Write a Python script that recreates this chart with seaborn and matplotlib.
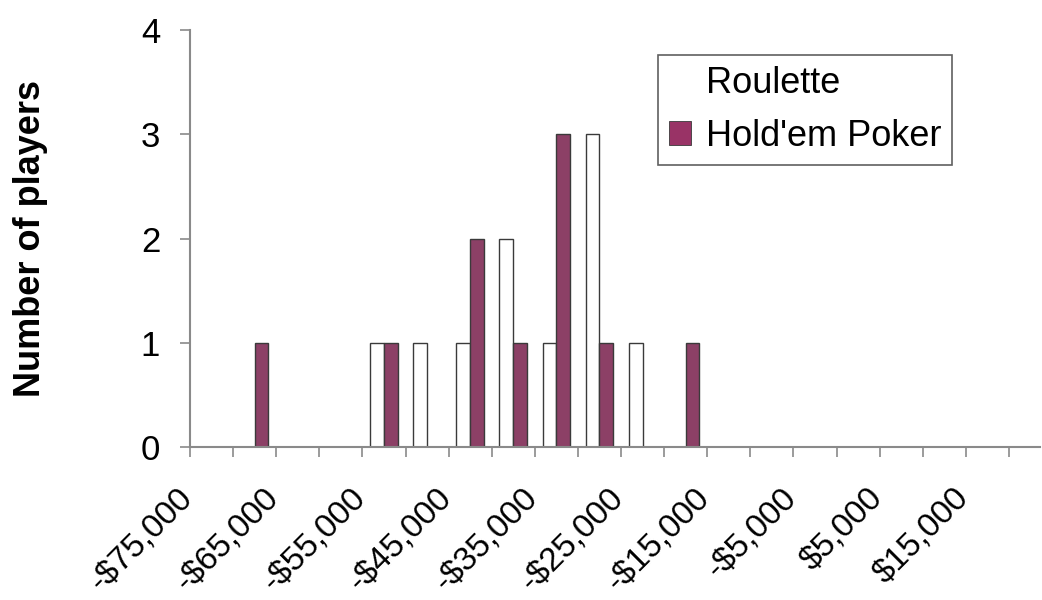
import numpy as np
import pandas as pd
import seaborn as sns
import matplotlib.pyplot as plt
from matplotlib.patches import Patch

# bins of $5,000 (lower edge), counts
bins = [-75000, -70000, -65000, -60000, -55000, -50000, -45000, -40000, -35000, -30000,
        -25000, -20000, -15000, -10000, -5000, 0, 5000, 10000, 15000, 20000]
roulette = [0, 0, 0, 0, 1, 1, 1, 2, 1, 3, 1, 0, 0, 0, 0, 0, 0, 0, 0, 0]
holdem = [0, 1, 0, 0, 1, 0, 2, 1, 3, 1, 0, 1, 0, 0, 0, 0, 0, 0, 0, 0]
tick_labels = ["-$75,000", "-$65,000", "-$55,000", "-$45,000", "-$35,000",
               "-$25,000", "-$15,000", "-$5,000", "$5,000", "$15,000"]
y_ticks = [0, 1, 2, 3, 4]

games = ["Roulette", "Hold'em Poker"]
colors = {"Roulette": "white", "Hold'em Poker": "#993366"}

df = pd.DataFrame({
    "bin": [str(b) for b in bins] * 2,
    "players": roulette + holdem,
    "game": [games[0]] * len(bins) + [games[1]] * len(bins),
})

sns.set_style("ticks")
plt.rcParams['font.family'] = ['Liberation Sans', 'DejaVu Sans']
plt.rcParams['text.color'] = 'black'
fs = 24
axis_grey = "#8a8a8a"

fig = plt.figure(figsize=(10.42, 6), dpi=100)
ax = fig.add_axes([190 / 1042, 153 / 600, 850 / 1042, 417 / 600])

sns.barplot(data=df, x="bin", y="players", hue="game", order=[str(b) for b in bins],
            hue_order=games, palette=colors, edgecolor="#3a3a3a", linewidth=1.0,
            width=0.64, legend=False, ax=ax)

ax.set_xlim(-0.5, 19.22)
ax.set_ylim(0, 4)
ax.set_yticks(y_ticks)
ax.set_yticklabels([str(v) for v in y_ticks], fontsize=25, color="black")

# tick marks on category boundaries, labels on every other boundary
ax.set_xticks(np.arange(len(bins)) - 0.5, minor=True)
ax.set_xticks(np.arange(0, len(bins), 2) - 0.5 + 0.22)
ax.set_xticklabels(tick_labels, fontsize=fs, rotation=45, ha="right", va="top", color="black")

ax.tick_params(axis="x", which="major", length=0, pad=26)
ax.tick_params(axis="x", which="minor", direction="out", length=7.5, width=1.2, color=axis_grey)
ax.tick_params(axis="y", direction="out", length=7.5, width=1.2, color=axis_grey, pad=14)
ax.set_xlabel("")
ax.set_ylabel("Number of players", fontsize=26, fontweight="bold", color="black")
ax.yaxis.set_label_coords(-0.167, 0.5)

for side in ["top", "right"]:
    ax.spines[side].set_visible(False)
for side in ["left", "bottom"]:
    ax.spines[side].set_color(axis_grey)
    ax.spines[side].set_linewidth(1.5)

handles = [Patch(facecolor="white", edgecolor="none", label=games[0]),
           Patch(facecolor=colors[games[1]], edgecolor="#3a3a3a", linewidth=0.6, label=games[1])]
leg = ax.legend(handles=handles, loc="upper left", bbox_to_anchor=(658 / 1042, 1 - 55 / 600),
                bbox_transform=fig.transFigure, borderaxespad=0, fontsize=26, frameon=True,
                fancybox=False, framealpha=1, edgecolor="#606060", handlelength=0.62,
                handleheight=0.62, handletextpad=0.4, borderpad=0.3, labelspacing=0.5)
leg.get_frame().set_linewidth(1.2)
for t in leg.get_texts():
    t.set_color("black")

fig.savefig("out.png", dpi=100)
